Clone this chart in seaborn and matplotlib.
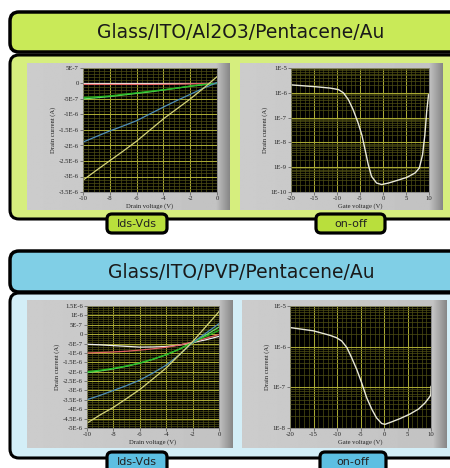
import matplotlib
matplotlib.use('Agg')
import matplotlib.pyplot as plt
import numpy as np
import seaborn as sns
from matplotlib.patches import FancyBboxPatch
from matplotlib.ticker import MultipleLocator, FixedLocator

# ---- data ----
vd = [-10, -9, -8, -7, -6, -5, -4, -3, -2, -1, 0]

# Glass/ITO/Al2O3/Pentacene/Au, Ids-Vds (A)
al_white = [0.0, 0.0, 0.0, 0.0, 0.0, 0.0, 0.0, 0.0, 0.0, 0.0, 0.0]
al_red = [-3e-8, -3e-8, -3e-8, -3e-8, -3e-8, -3e-8, -2.5e-8, -2e-8, -1e-8, 0.0, 0.0]
al_green1 = [-4.5e-7, -4.3e-7, -4.0e-7, -3.5e-7, -3.0e-7, -2.5e-7, -2.0e-7, -1.5e-7, -8e-8, -3e-8, 0.0]
al_green2 = [-5.0e-7, -4.6e-7, -4.2e-7, -3.7e-7, -3.2e-7, -2.7e-7, -2.1e-7, -1.5e-7, -9e-8, -4e-8, 1e-8]
al_blue = [-1.89e-6, -1.71e-6, -1.53e-6, -1.37e-6, -1.2e-6, -9.8e-7, -7.6e-7, -5.5e-7, -3.5e-7,
           -1.5e-7, 3e-8]
al_yellow = [-3.12e-6, -2.8e-6, -2.49e-6, -2.18e-6, -1.86e-6, -1.5e-6, -1.14e-6, -8.2e-7, -5.0e-7,
             -1.5e-7, 2.2e-7]

# Glass/ITO/Al2O3/Pentacene/Au, on-off
al_vg = [-20, -15, -11.5, -9.7, -8.6, -7.5, -6.5, -5.4, -4.6, -3.9, -3.2, -2.5, -1.4, -0.3,
         1.2, 3.0, 5.2, 7.0, 7.9, 8.6, 9.1, 9.5, 9.9]
al_id = [2.09e-6, 1.78e-6, 1.55e-6, 1.35e-6, 1.0e-6, 5.2e-7, 2.1e-7, 6.0e-8, 2.0e-8, 5.1e-9,
         1.26e-9, 4.3e-10, 2.3e-10, 2.0e-10, 2.3e-10, 2.9e-10, 3.9e-10, 5.9e-10, 9.3e-10,
         3.2e-9, 2.0e-8, 1.8e-7, 8.3e-7]

# Glass/ITO/PVP/Pentacene/Au, Ids-Vds (A)
pvp_white = [-5.4e-7, -5.7e-7, -6.1e-7, -6.5e-7, -6.9e-7, -6.8e-7, -6.6e-7, -5.8e-7, -4.5e-7,
             -3.0e-7, -1.2e-7]
pvp_red = [-1.0e-6, -9.8e-7, -9.5e-7, -9.1e-7, -8.5e-7, -7.8e-7, -7.0e-7, -5.8e-7, -4.2e-7,
           -2.2e-7, -2e-8]
pvp_green1 = [-2.0e-6, -1.92e-6, -1.82e-6, -1.69e-6, -1.53e-6, -1.33e-6, -1.09e-6, -8.0e-7,
              -4.5e-7, -1.2e-7, 2.0e-7]
pvp_green2 = [-2.05e-6, -1.96e-6, -1.85e-6, -1.71e-6, -1.55e-6, -1.34e-6, -1.1e-6, -8.0e-7,
              -4.3e-7, -5e-8, 3.8e-7]
pvp_blue = [-3.49e-6, -3.26e-6, -3.0e-6, -2.74e-6, -2.45e-6, -2.07e-6, -1.65e-6, -1.1e-6,
            -4.5e-7, 5e-8, 5.6e-7]
pvp_yellow = [-4.74e-6, -4.3e-6, -3.9e-6, -3.43e-6, -2.95e-6, -2.38e-6, -1.8e-6, -1.1e-6,
              -4.0e-7, 4.0e-7, 1.2e-6]

# Glass/ITO/PVP/Pentacene/Au, on-off
pvp_vg = [-20, -15, -11.5, -10.1, -9.0, -7.9, -6.9, -5.8, -4.75, -3.7, -2.6, -1.6, -0.5, 0.2,
          1.6, 3.4, 5.5, 7.3, 8.7, 9.6, 9.95, 10]
pvp_id = [2.95e-6, 2.45e-6, 1.9e-6, 1.66e-6, 1.38e-6, 9.5e-7, 5.4e-7, 2.75e-7, 1.29e-7, 5.6e-8,
          2.9e-8, 1.78e-8, 1.29e-8, 1.23e-8, 1.41e-8, 1.7e-8, 2.2e-8, 2.9e-8, 4.1e-8, 5.6e-8,
          6.5e-8, 1.05e-7]

al_yticks = [5e-7, 0, -5e-7, -1e-6, -1.5e-6, -2e-6, -2.5e-6, -3e-6, -3.5e-6]
al_ylabels = ['5E-7', '0', '-5E-7', '-1E-6', '-1.5E-6', '-2E-6', '-2.5E-6', '-3E-6', '-3.5E-6']
pvp_yticks = [1.5e-6, 1e-6, 5e-7, 0, -5e-7, -1e-6, -1.5e-6, -2e-6, -2.5e-6, -3e-6,
              -3.5e-6, -4e-6, -4.5e-6, -5e-6]
pvp_ylabels = ['1.5E-6', '1E-6', '5E-7', '0', '-5E-7', '-1E-6', '-1.5E-6', '-2E-6', '-2.5E-6',
               '-3E-6', '-3.5E-6', '-4E-6', '-4.5E-6', '-5E-6']

line_colors = {'white': '#eeeeee', 'red': '#e06060', 'green1': '#22b822', 'green2': '#66e066',
               'blue': '#4f8fb8', 'yellow': '#d4d47a'}

W, H = 450, 468
fig = plt.figure(figsize=(4.5, 4.68), dpi=100)
fig.patch.set_facecolor('white')

bg = fig.add_axes([0, 0, 1, 1])
bg.set_xlim(0, W)
bg.set_ylim(H, 0)
bg.axis('off')


def rbox(x0, y0, x1, y1, fc, lw=2.2, r=9, z=1):
    p = FancyBboxPatch((x0, y0), x1 - x0, y1 - y0,
                       boxstyle='round,pad=0,rounding_size=%g' % r,
                       fc=fc, ec='black', lw=lw, zorder=z)
    bg.add_patch(p)


def gray_panel(x0, y0, x1, y1):
    g = np.linspace(0, 1, 200)
    shade = np.where(g < 0.93, 0.80 - 0.04 * g, 0.78 - (g - 0.93) * 3.5)
    bg.imshow(shade[None, :], cmap='gray', vmin=0, vmax=1, aspect='auto',
              extent=(x0, x1, y1, y0), zorder=3, interpolation='bilinear')


def px_axes(x0, y0, x1, y1):
    return fig.add_axes([x0 / W, 1 - y1 / H, (x1 - x0) / W, (y1 - y0) / H], zorder=5)


serif = 'Liberation Serif'


def style(ax, xlabel):
    ax.set_facecolor('black')
    ax.grid(which='major', color='#a8a834', lw=0.75)
    ax.grid(which='minor', color='#4e4e14', lw=0.5)
    ax.set_axisbelow(True)
    for s in ax.spines.values():
        s.set_color('#777777')
        s.set_linewidth(0.5)
    ax.tick_params(which='major', labelsize=4.8, length=2, width=0.5, color='#555555',
                   pad=1, labelcolor='#222222')
    ax.tick_params(which='minor', length=0)
    for t in ax.get_xticklabels() + ax.get_yticklabels():
        t.set_fontfamily(serif)
    ax.set_xlabel(xlabel, fontsize=4.8, family=serif, labelpad=1.5, color='#222222')
    ax.set_ylabel('Drain current (A)', fontsize=4.8, family=serif, labelpad=2, color='#222222')


def output_plot(ax, series, yticks, ylabels):
    for name, vals in series:
        sns.lineplot(x=vd, y=vals, ax=ax, color=line_colors[name], lw=0.9,
                     estimator=None, sort=False)
    ax.set_xlim(-10, 0)
    ax.set_ylim(yticks[-1], yticks[0])
    ax.set_xticks([-10, -8, -6, -4, -2, 0])
    ax.set_xticklabels(['-10', '-8', '-6', '-4', '-2', '0'])
    ax.xaxis.set_minor_locator(MultipleLocator(0.4))
    ax.set_yticks(yticks)
    ax.set_yticklabels(ylabels)
    ax.yaxis.set_minor_locator(MultipleLocator(1e-7))
    style(ax, 'Drain voltage (V)')


def transfer_plot(ax, vg, idd, ymin, ylabels):
    sns.lineplot(x=vg, y=idd, ax=ax, color='#e8e8d8', lw=1.0, estimator=None, sort=False)
    ax.set_yscale('log')
    ax.set_xlim(-20, 10)
    ax.set_ylim(ymin, 1e-5)
    ax.set_xticks([-20, -15, -10, -5, 0, 5, 10])
    ax.set_xticklabels(['-20', '-15', '-10', '-5', '0', '5', '10'])
    ax.xaxis.set_minor_locator(MultipleLocator(1))
    majors = [10.0 ** k for k in range(int(round(np.log10(ymin))), -4)]
    ax.yaxis.set_major_locator(FixedLocator(majors))
    ax.set_yticks(majors)
    ax.set_yticklabels(ylabels)
    style(ax, 'Gate voltage (V)')


# ---- top block (Al2O3) ----
rbox(10, 55, 480, 219, '#d6ee7e')
rbox(10, 12, 480, 52, '#c9ea58', lw=2.5)
bg.text(241, 33, 'Glass/ITO/Al2O3/Pentacene/Au', ha='center', va='center',
        fontsize=13.5, color='#1a1a1a', zorder=4)
gray_panel(27, 63, 230, 210)
gray_panel(240, 63, 443, 210)
rbox(107, 214, 167, 233, '#b9df3c', lw=2.3, r=5, z=6)
rbox(316, 214, 385, 233, '#b9df3c', lw=2.3, r=5, z=6)
bg.text(137, 224, 'Ids-Vds', ha='center', va='center', fontsize=8, color='#222222', zorder=7)
bg.text(350.5, 224, 'on-off', ha='center', va='center', fontsize=8, color='#222222', zorder=7)

ax1 = px_axes(83, 68, 217, 192)
output_plot(ax1, [('white', al_white), ('red', al_red), ('green2', al_green2),
                  ('green1', al_green1), ('blue', al_blue), ('yellow', al_yellow)],
            al_yticks, al_ylabels)

ax2 = px_axes(291, 68, 429, 192)
transfer_plot(ax2, al_vg, al_id, 1e-10, ['1E-10', '1E-9', '1E-8', '1E-7', '1E-6', '1E-5'])

# ---- bottom block (PVP) ----
rbox(10, 293, 480, 458, '#d3eef7')
rbox(10, 251, 480, 292, '#80cfe6', lw=2.5)
bg.text(241, 272, 'Glass/ITO/PVP/Pentacene/Au', ha='center', va='center',
        fontsize=13.5, color='#1a1a1a', zorder=4)
gray_panel(27, 300, 233, 448)
gray_panel(242, 300, 447, 448)
rbox(107, 452, 167, 478, '#5cbfe2', lw=2.3, r=5, z=6)
rbox(320, 452, 386, 478, '#5cbfe2', lw=2.3, r=5, z=6)
bg.text(137, 462, 'Ids-Vds', ha='center', va='center', fontsize=8, color='#222222', zorder=7)
bg.text(353, 462, 'on-off', ha='center', va='center', fontsize=8, color='#222222', zorder=7)

ax3 = px_axes(87, 306, 219, 428)
output_plot(ax3, [('white', pvp_white), ('red', pvp_red), ('green2', pvp_green2),
                  ('green1', pvp_green1), ('blue', pvp_blue), ('yellow', pvp_yellow)],
            pvp_yticks, pvp_ylabels)

ax4 = px_axes(290, 306, 431, 428)
transfer_plot(ax4, pvp_vg, pvp_id, 1e-8, ['1E-8', '1E-7', '1E-6', '1E-5'])

fig.savefig('out.png', dpi=100, facecolor='white')
